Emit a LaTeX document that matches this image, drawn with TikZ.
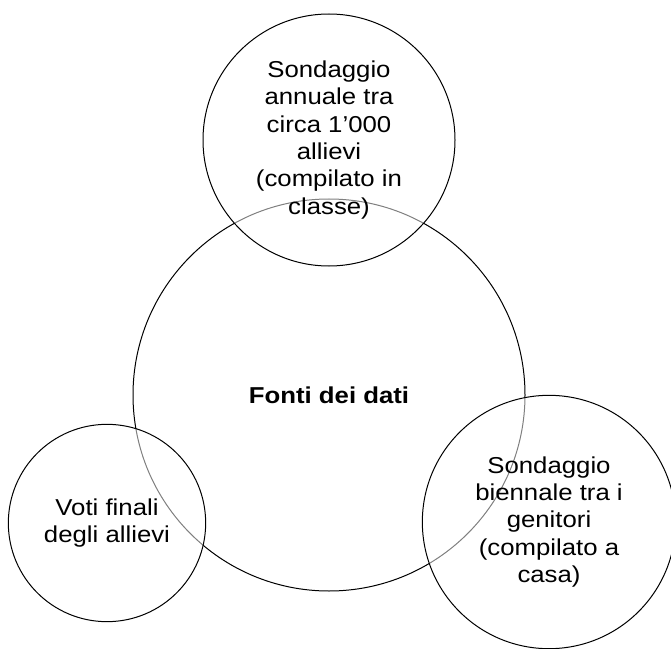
\documentclass[tikz,border=0pt]{standalone}
\usepackage{fontspec}
\setmainfont{Liberation Sans}[FakeStretch=1.12]
\usepackage{tikz}
\tikzstyle{fonte}=[draw,circle,inner sep=0pt,line width=0.75pt,align=center,
  fill=white,fill opacity=0.5,text opacity=1,
  font=\fontsize{17.25}{20.5}\selectfont]

\begin{document}
\begin{tikzpicture}[x=0.75pt,y=-0.75pt]
\useasboundingbox (0,0) rectangle (671,649);
  \node[draw,circle,inner sep=0pt,line width=0.75pt,minimum size=294pt,
        font=\fontsize{17.25}{20.5}\selectfont\bfseries] (dati) at (329,395) {Fonti dei dati};
  \foreach \place/\name/\size/\testo in {{(329,140)/allievi/189pt/Sondaggio\\annuale tra\\circa 1’000\\allievi\\(compilato in\\classe)},
                                         {(107,523)/voti/148pt/Voti finali\\degli allievi},
                                         {(549,522)/genitori/190pt/Sondaggio\\biennale tra i\\genitori\\(compilato a\\casa)}}
    \node[fonte,minimum size=\size] (\name) at \place {\testo};
\end{tikzpicture}
\end{document}
